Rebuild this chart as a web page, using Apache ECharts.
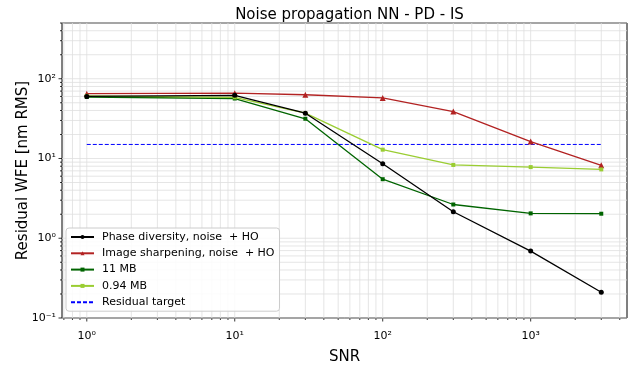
<!DOCTYPE html>
<html>
<head>
<meta charset="utf-8">
<script src="https://cdn.jsdelivr.net/npm/echarts@6/dist/echarts.min.js"></script>
<style>
  html, body { margin: 0; padding: 0; background: #fff; }
  #chart { width: 630px; height: 366px; }
</style>
</head>
<body>
<div id="chart"></div>
<script>
// Residual wavefront error versus SNR for each reconstruction method
const snr = [1, 10, 30, 100, 300, 1000, 3000];
const phaseDiversity = [60, 62, 37, 8.6, 2.15, 0.69, 0.21];
const imageSharpening = [65, 66, 63, 57.5, 38.8, 16.3, 8.2];
const mb11 = [59, 56.5, 31.5, 5.5, 2.65, 2.05, 2.03];
const mb094 = [61, 58.5, 37, 12.9, 8.3, 7.8, 7.3];
const residualTargetSnr = [1, 3000];
const residualTargetValue = [15, 15];

const seriesNames = [
  'Phase diversity, noise  + HO',
  'Image sharpening, noise  + HO',
  '11 MB',
  '0.94 MB',
  'Residual target'
];

// Axis extents (log scale)
const xMin = 0.68, xMax = 4477;
const yMin = 0.1, yMax = 500;

// Decade tick positions: majors at powers of ten, minors at 2..9 multiples
function logTicks(lo, hi) {
  const out = [];
  for (let e = Math.floor(Math.log10(lo)); e <= Math.ceil(Math.log10(hi)); e++) {
    for (let m = 1; m <= 9; m++) {
      const v = m * Math.pow(10, e);
      if (v >= lo * 0.9999 && v <= hi * 1.0001) out.push([v, m === 1 ? 1 : 0]);
    }
  }
  return out;
}
const xTicks = logTicks(xMin, xMax);
const yTicks = logTicks(yMin, yMax);

const supMap = { '-': '\u207B', '0': '\u2070', '1': '\u00B9', '2': '\u00B2', '3': '\u00B3',
  '4': '\u2074', '5': '\u2075', '6': '\u2076', '7': '\u2077', '8': '\u2078', '9': '\u2079' };
function powLabel(v) {
  const e = Math.log10(v);
  if (Math.abs(e - Math.round(e)) > 1e-6) return '';
  return '10' + String(Math.round(e)).split('').map(c => supMap[c]).join('');
}

const pairs = ys => snr.map((x, i) => [x, ys[i]]);
const gridColor = '#dedede';
const FONT = 'DejaVu Sans';

function xTickItem(params, api) {
  const cs = params.coordSys;
  const x = api.coord([api.value(0), 1])[0];
  const len = api.value(2) === 1 ? 3.5 : 2;
  const bottom = cs.y + cs.height;
  return { type: 'group', children: [
    { type: 'line', shape: { x1: x, y1: cs.y, x2: x, y2: bottom }, style: { stroke: gridColor, lineWidth: 0.8 } },
    { type: 'line', shape: { x1: x, y1: bottom, x2: x, y2: bottom + len }, style: { stroke: '#000', lineWidth: 0.8 } }
  ]};
}
function yTickItem(params, api) {
  const cs = params.coordSys;
  const y = api.coord([1, api.value(1)])[1];
  const len = api.value(2) === 1 ? 3.5 : 2;
  return { type: 'group', children: [
    { type: 'line', shape: { x1: cs.x, y1: y, x2: cs.x + cs.width, y2: y }, style: { stroke: gridColor, lineWidth: 0.8 } },
    { type: 'line', shape: { x1: cs.x - len, y1: y, x2: cs.x, y2: y }, style: { stroke: '#000', lineWidth: 0.8 } }
  ]};
}

const chart = echarts.init(document.getElementById('chart'), null, { renderer: 'canvas' });
chart.setOption({
  animation: false,
  backgroundColor: '#fff',
  textStyle: { fontFamily: FONT },
  title: {
    text: 'Noise propagation NN - PD - IS',
    left: 344.5, textAlign: 'center', top: 3,
    textStyle: { fontFamily: FONT, fontSize: 15, fontWeight: 'normal', color: '#000' }
  },
  grid: {
    left: 62, right: 3, top: 23, bottom: 48,
    outerBoundsMode: 'none', containLabel: false,
    show: true, borderColor: '#000', borderWidth: 1, backgroundColor: 'transparent'
  },
  legend: {
    data: seriesNames,
    orient: 'vertical',
    left: 66, top: 228,
    padding: [3, 5, 3, 4],
    itemWidth: 23, itemHeight: 5, itemGap: 4.3,
    backgroundColor: 'rgba(255,255,255,0.85)',
    borderColor: '#cccccc', borderWidth: 1, borderRadius: 3,
    textStyle: { fontFamily: FONT, fontSize: 11, color: '#000', lineHeight: 12, padding: [0, 0, 0, 3] }
  },
  xAxis: {
    type: 'log', logBase: 10, min: xMin, max: xMax,
    name: 'SNR', nameLocation: 'middle', nameGap: 32, nameMoveOverlap: false,
    nameTextStyle: { fontFamily: FONT, fontSize: 15, color: '#000' },
    axisLine: { show: false },
    axisTick: { show: false },
    splitLine: { show: false },
    axisLabel: { formatter: powLabel, fontFamily: FONT, fontSize: 11, color: '#000', margin: 13,
      showMinLabel: false, showMaxLabel: false }
  },
  yAxis: {
    type: 'log', logBase: 10, min: yMin, max: yMax,
    name: 'Residual WFE [nm RMS]', nameLocation: 'middle', nameGap: 31, nameMoveOverlap: false,
    nameTextStyle: { fontFamily: FONT, fontSize: 15, color: '#000' },
    axisLine: { show: false },
    axisTick: { show: false },
    splitLine: { show: false },
    axisLabel: { formatter: powLabel, fontFamily: FONT, fontSize: 11, color: '#000', margin: 6,
      showMaxLabel: false }
  },
  series: [
    { type: 'custom', name: 'xgrid', renderItem: xTickItem, data: xTicks.map(t => [t[0], 1, t[1]]),
      silent: true, z: 0, clip: false, encode: { x: 0, y: 1 } },
    { type: 'custom', name: 'ygrid', renderItem: yTickItem, data: yTicks.map(t => [1, t[0], t[1]]),
      silent: true, z: 0, clip: false, encode: { x: 0, y: 1 } },
    { type: 'line', name: seriesNames[0], data: pairs(phaseDiversity), z: 5,
      symbol: 'circle', symbolSize: 5, color: '#000000',
      lineStyle: { width: 1.3, color: '#000000' }, itemStyle: { color: '#000000' } },
    { type: 'line', name: seriesNames[1], data: pairs(imageSharpening), z: 4,
      symbol: 'triangle', symbolSize: 6, color: '#b22222',
      lineStyle: { width: 1.3, color: '#b22222' }, itemStyle: { color: '#b22222' } },
    { type: 'line', name: seriesNames[2], data: pairs(mb11), z: 4,
      symbol: 'rect', symbolSize: 4, color: '#006400',
      lineStyle: { width: 1.3, color: '#006400' }, itemStyle: { color: '#006400' } },
    { type: 'line', name: seriesNames[3], data: pairs(mb094), z: 4,
      symbol: 'rect', symbolSize: 4, color: '#9acd32',
      lineStyle: { width: 1.3, color: '#9acd32' }, itemStyle: { color: '#9acd32' } },
    { type: 'line', name: seriesNames[4], data: residualTargetSnr.map((x, i) => [x, residualTargetValue[i]]), z: 3,
      symbol: 'circle', showSymbol: false, color: '#0000ff',
      itemStyle: { color: 'rgba(0,0,0,0)' },
      lineStyle: { width: 1, color: '#0000ff', type: [4, 2] } }
  ]
});
</script>
</body>
</html>
